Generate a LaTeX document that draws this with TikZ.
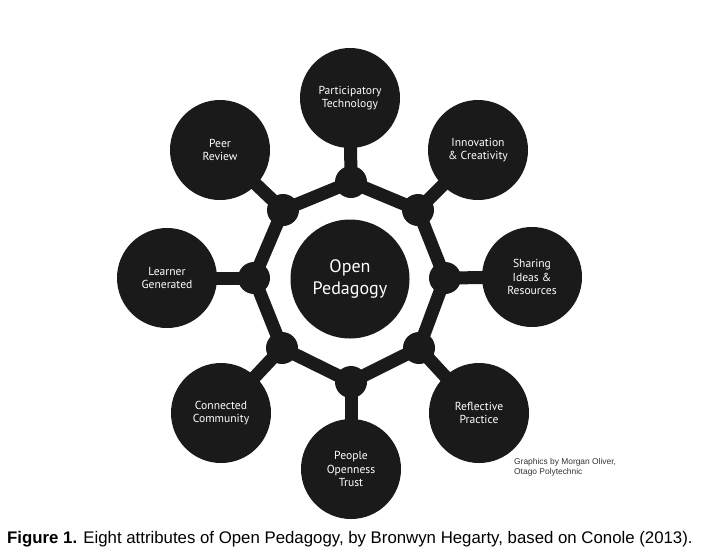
\documentclass[tikz,border=0pt]{standalone}
\usepackage{fontspec}
\usetikzlibrary{backgrounds}
\setmainfont{Liberation Sans}
\newfontfamily\circfont{PT Sans}
\definecolor{blob}{HTML}{1A1A1A}
\begin{document}
\begin{tikzpicture}[x=1pt,y=-1pt,
  big/.style={circle,fill=blob,draw=none,minimum size=100pt,inner sep=0pt,text=white,align=center,font=\circfont\fontsize{11.6}{13.5}\selectfont},
  hub/.style={circle,fill=blob,draw=none,minimum size=119pt,inner sep=0pt,text=white,align=center,font=\circfont\fontsize{18}{22}\selectfont},
  dot/.style={circle,fill=blob,draw=none,minimum size=32pt,inner sep=0pt},
  bar/.style={draw=blob,line width=13pt}]
\useasboundingbox (0,0) rectangle (708,558);
% ring dots
\node[dot] (d1) at (351,182) {};
\node[dot] (d2) at (418,210) {};
\node[dot] (d3) at (445,278) {};
\node[dot] (d4) at (419,348) {};
\node[dot] (d5) at (351,382) {};
\node[dot] (d6) at (282,348) {};
\node[dot] (d7) at (254,278) {};
\node[dot] (d8) at (283,210) {};
% outer circles
\node[big] (o1) at (350,98) {Participatory\\Technology};
\node[big] (o2) at (478,150) {Innovation\\\& Creativity};
\node[big] (o3) at (532,277) {Sharing\\Ideas \&\\Resources};
\node[big] (o4) at (479,413) {Reflective\\Practice};
\node[big] (o5) at (351,469) {People\\Openness\\Trust};
\node[big] (o6) at (221,413) {Connected\\Community};
\node[big] (o7) at (167,278) {Learner\\Generated};
\node[big] (o8) at (220,150) {Peer\\Review};
\node[hub] (c) at (350,279) {Open\\Pedagogy};
% connectors
\begin{scope}[on background layer]
\fill[white] (0,0) rectangle (708,558);
\draw[bar] (d1.center) -- (d2.center) -- (d3.center) -- (d4.center) -- (d5.center) -- (d6.center) -- (d7.center) -- (d8.center) -- cycle;
\foreach \i in {1,...,8} {\draw[bar] (d\i.center) -- (o\i.center);}
\end{scope}
% credit and caption
\node[anchor=north west,align=left,inner sep=0pt,font=\fontsize{8.4}{10.5}\selectfont,text=black!80] (credit) at (514,458) {Graphics by Morgan Oliver,\\Otago Polytechnic};
\node[anchor=west,inner sep=0pt,font=\fontsize{16.8}{19}\selectfont] (cap) at (7,539) {\textbf{Figure 1.} Eight attributes of Open Pedagogy, by Bronwyn Hegarty, based on Conole (2013).};
\end{tikzpicture}
\end{document}
